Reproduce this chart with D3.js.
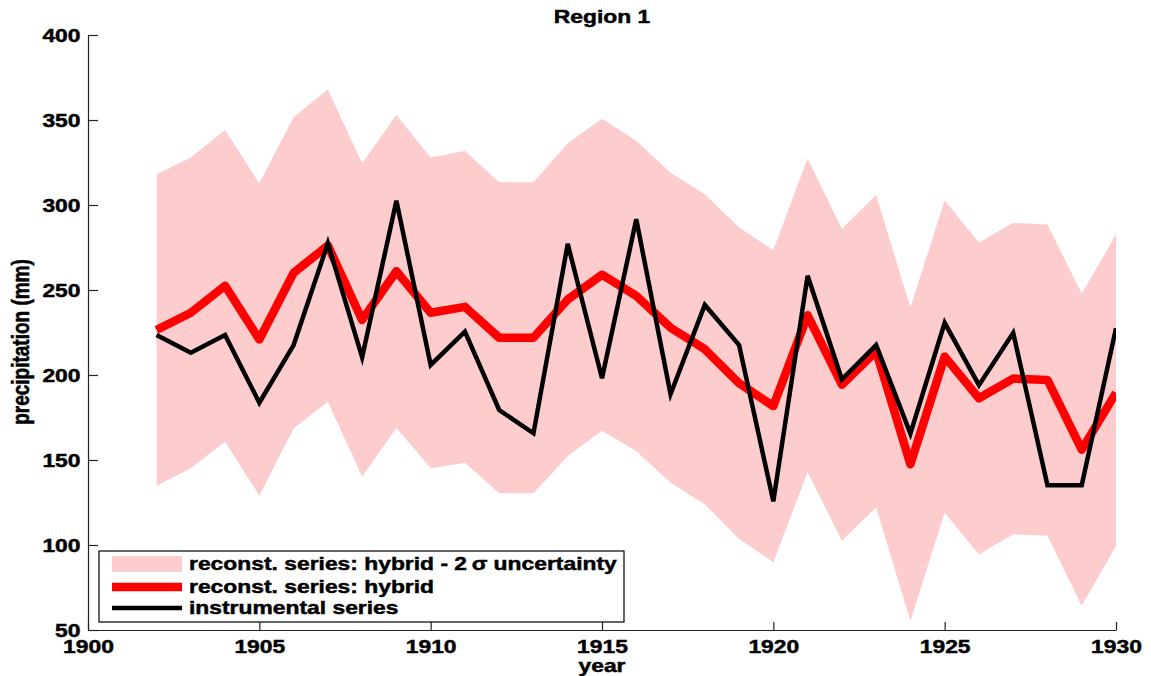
<!DOCTYPE html>
<html>
<head>
<meta charset="utf-8">
<script src="https://cdn.jsdelivr.net/npm/d3@7"></script>
<style>
  html, body { margin: 0; padding: 0; background: #fff; }
  svg { display: block; }
  text { font-family: "Liberation Sans", Arial, Helvetica, sans-serif; font-weight: bold; fill: #000;
         stroke: #000; stroke-width: 0.45px; }
</style>
</head>
<body>
<svg id="chart" width="1151" height="676"></svg>
<script>
// Years of the reconstruction / observation period
const years = [1902, 1903, 1904, 1905, 1906, 1907, 1908, 1909, 1910, 1911, 1912, 1913, 1914, 1915,
               1916, 1917, 1918, 1919, 1920, 1921, 1922, 1923, 1924, 1925, 1926, 1927, 1928, 1929, 1930];

// Hybrid reconstruction (mm)
const hybrid = [226.5, 236.6, 252.5, 220.9, 260.1, 276.2, 232.4, 261.0, 236.6, 240.1, 221.9, 221.9, 244.4, 259.0,
                246.5, 227.8, 215.2, 195.2, 181.7, 235.1, 194.3, 214.0, 147.5, 210.8, 186.3, 197.9, 197.1, 156.1, 189.5];

// Upper and lower bounds of the 2-sigma uncertainty band (mm)
const bandUpper = [318.1, 328.0, 344.1, 312.8, 351.6, 368.0, 324.5, 352.9, 328.0, 331.8, 313.4, 313.4, 336.3, 350.8,
                   337.8, 318.9, 306.3, 286.8, 273.5, 327.3, 286.1, 305.9, 239.7, 302.7, 277.9, 289.5, 288.6, 247.9, 282.6];
const bandLower = [134.9, 145.1, 160.8, 129.0, 168.6, 184.3, 140.2, 169.0, 145.1, 148.4, 130.4, 130.4, 152.4, 167.2,
                   155.1, 136.6, 124.0, 103.6, 89.9, 142.9, 102.5, 122.1, 55.3, 118.9, 94.6, 106.3, 105.5, 64.3, 99.4];

// Instrumental record (mm)
const instrumental = [223.5, 213.1, 223.5, 183.7, 217.6, 277.5, 210.4, 302.5, 205.9, 225.5, 179.4, 165.7, 277.1, 198.1,
                      291.6, 188.7, 241.2, 217.6, 125.7, 258.4, 197.5, 217.6, 165.5, 230.7, 194.0, 224.8, 135.1, 135.1, 227.5];

// Axis ticks
const xTicks = [1900, 1905, 1910, 1915, 1920, 1925, 1930];
const yTicks = [50, 100, 150, 200, 250, 300, 350, 400];

// Legend entries
const legendLabels = ["reconst. series: hybrid - 2\u2009\u03c3 uncertainty", "reconst. series: hybrid", "instrumental series"];

const colors = { band: "#fdcccc", hybrid: "#ff0000", instrumental: "#000000" };

// Layout
const plot = { left: 88, right: 1116, top: 35, bottom: 630 };
const fontSize = 18;
const stretch = 1.27; // glyphs are drawn wide

const svg = d3.select("#chart");

const x = d3.scaleLinear().domain([1900, 1930]).range([plot.left, plot.right]);
const y = d3.scaleLinear().domain([50, 400]).range([plot.bottom, plot.top]);

const rows = years.map((yr, i) => ({
  year: yr, hybrid: hybrid[i], up: bandUpper[i], lo: bandLower[i], inst: instrumental[i]
}));

svg.append("defs").append("clipPath").attr("id", "plotClip")
  .append("rect")
  .attr("x", plot.left).attr("y", plot.top)
  .attr("width", plot.right - plot.left).attr("height", plot.bottom - plot.top);

const g = svg.append("g").attr("clip-path", "url(#plotClip)");

// Uncertainty band
g.append("path")
  .datum(rows)
  .attr("fill", colors.band)
  .attr("d", d3.area().x(d => x(d.year)).y0(d => y(d.lo)).y1(d => y(d.up)));

// Hybrid reconstruction
g.append("path")
  .datum(rows)
  .attr("fill", "none")
  .attr("stroke", colors.hybrid)
  .attr("stroke-width", 8.5)
  .attr("stroke-linejoin", "round")
  .attr("d", d3.line().x(d => x(d.year)).y(d => y(d.hybrid)));

// Instrumental series
g.append("path")
  .datum(rows)
  .attr("fill", "none")
  .attr("stroke", colors.instrumental)
  .attr("stroke-width", 4.5)
  .attr("stroke-linejoin", "miter")
  .attr("d", d3.line().x(d => x(d.year)).y(d => y(d.inst)));

// Helper to widen a text element horizontally around its anchor
function widen(sel, dx) {
  sel.each(function () {
    const t = d3.select(this);
    const tx = dx !== undefined ? dx : +t.attr("x") || 0;
    const ty = +t.attr("y") || 0;
    t.attr("x", 0).attr("y", 0)
     .attr("transform", `translate(${tx},${ty}) scale(${stretch},1)`);
  });
}

// Y axis (ticks pointing inward)
const yAxis = svg.append("g")
  .attr("transform", `translate(${plot.left},0)`)
  .call(d3.axisLeft(y).tickValues(yTicks).tickFormat(d3.format("d")).tickSize(-10).tickSizeOuter(0).tickPadding(7.5));
yAxis.select(".domain").attr("stroke", "#222").attr("stroke-width", 1.2);
yAxis.selectAll(".tick line").attr("stroke", "#222").attr("stroke-width", 1.2);
yAxis.selectAll(".tick text")
  .attr("font-size", fontSize).attr("dy", "0.36em")
  .style("font-family", "Liberation Sans, Arial, sans-serif").style("font-weight", "bold")
  .call(widen, -7.5);

// X axis (ticks pointing inward)
const xAxis = svg.append("g")
  .attr("transform", `translate(0,${plot.bottom})`)
  .call(d3.axisBottom(x).tickValues(xTicks).tickFormat(d3.format("d")).tickSize(-8).tickSizeOuter(0).tickPadding(10.5));
xAxis.select(".domain").attr("stroke", "#222").attr("stroke-width", 1.2);
xAxis.selectAll(".tick line").attr("stroke", "#222").attr("stroke-width", 1.2);
xAxis.selectAll(".tick text")
  .attr("font-size", fontSize)
  .style("font-family", "Liberation Sans, Arial, sans-serif").style("font-weight", "bold")
  .call(widen, 0);

// Title
svg.append("text")
  .attr("text-anchor", "middle").attr("font-size", fontSize)
  .attr("transform", `translate(${(plot.left + plot.right) / 2},22.5) scale(${stretch},1)`)
  .text("Region 1");

// Axis titles
svg.append("text")
  .attr("text-anchor", "middle").attr("font-size", fontSize)
  .attr("transform", `translate(${(plot.left + plot.right) / 2},671.5) scale(${stretch},1)`)
  .text("year");

svg.append("text")
  .attr("text-anchor", "middle").attr("font-size", 19)
  .attr("transform", `translate(28.5,342) scale(${stretch},1) rotate(-90)`)
  .text("precipitation (mm)");

// Legend
const legend = { x: 99, y: 551, w: 525, h: 71 };
const lg = svg.append("g");
lg.append("rect")
  .attr("x", legend.x).attr("y", legend.y).attr("width", legend.w).attr("height", legend.h)
  .attr("fill", "#fff").attr("stroke", "#000").attr("stroke-width", 1.2);

const rowY = [564, 587, 608];
const sw = { x0: 112, x1: 182 };

lg.append("rect")
  .attr("x", sw.x0).attr("y", rowY[0] - 8).attr("width", sw.x1 - sw.x0).attr("height", 16)
  .attr("fill", colors.band);
lg.append("line")
  .attr("x1", sw.x0).attr("x2", sw.x1).attr("y1", rowY[1]).attr("y2", rowY[1])
  .attr("stroke", colors.hybrid).attr("stroke-width", 8.5);
lg.append("line")
  .attr("x1", sw.x0).attr("x2", sw.x1).attr("y1", rowY[2]).attr("y2", rowY[2])
  .attr("stroke", colors.instrumental).attr("stroke-width", 4.5);

legendLabels.forEach((label, i) => {
  lg.append("text")
    .attr("font-size", fontSize)
    .attr("transform", `translate(189,${rowY[i] + 6.3}) scale(${stretch},1)`)
    .text(label);
});
</script>
</body>
</html>
